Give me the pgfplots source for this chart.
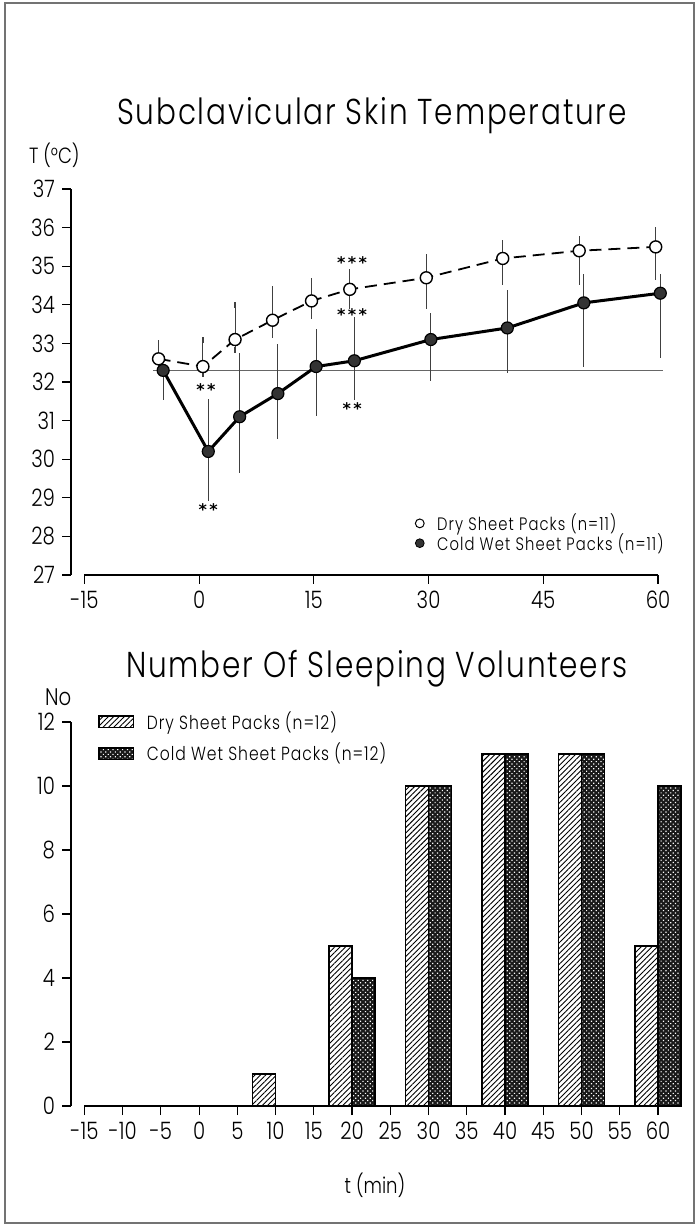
\documentclass[border=0pt]{standalone}
\usepackage{pgfplots}
\pgfplotsset{compat=1.18}
\usetikzlibrary{patterns,patterns.meta}
\usepackage{fontspec}
\setmainfont{Poppins Light}[FakeStretch=0.82]
\newfontfamily\djv{DejaVu Sans}

\pgfdeclareplotmark{capr}{%
  \pgfpathmoveto{\pgfpointorigin}%
  \pgfpathlineto{\pgfpoint{\pgfplotmarksize}{0pt}}%
  \pgfusepathqstroke}
\newcommand{\signif}[1]{{\djv\bfseries\fontsize{8}{8}\selectfont #1}}

\begin{document}
\begin{tikzpicture}
\useasboundingbox (0,0) rectangle (348.5pt,614pt);
\draw[black!55, line width=0.6pt] (2.5pt,2.5pt) rectangle (347pt,612.5pt);

\node[font=\fontsize{18}{20}\selectfont\addfontfeatures{LetterSpace=5}] at (186pt,556pt) {Subclavicular Skin Temperature};
\node[anchor=west, font=\fontsize{11}{12}\selectfont] at (11pt,536.5pt) {T (°C)};
\node[font=\fontsize{18}{20}\selectfont\addfontfeatures{LetterSpace=5}] at (188.5pt,279.5pt) {Number Of Sleeping Volunteers};
\node[anchor=west, font=\fontsize{12}{12}\selectfont] at (19pt,265.5pt) {No};
\node[font=\fontsize{11}{12}\selectfont] at (187.5pt,21.5pt) {t (min)};

% ---------------- top: temperature ----------------
\begin{axis}[
  at={(35.5pt,326.5pt)}, anchor=south west, scale only axis,
  width=293.5pt, height=193pt,
  xmin=-16.75, xmax=60, ymin=27, ymax=37,
  axis lines=left, axis line style={draw=none},
  clip=false,
  tick align=outside, major tick length=4.5pt,
  tick style={black, line width=0.6pt},
  xtick={-15,0,15,30,45,60}, xticklabels={-15,0,15,30,45,60},
  ytick={27,28,29,30,31,32,33,34,35,36,37},
  yticklabels={27,28,29,30,31,32,33,34,35,36,37},
  ticklabel style={font=\fontsize{12}{12}\selectfont},
  legend style={at={(0.586,0.163)}, anchor=north west, draw=none, fill=none,
    font=\fontsize{9}{10}\selectfont\addfontfeatures{LetterSpace=6},
    row sep=-1pt, column sep=6pt, inner sep=0pt, nodes={inner sep=0.5pt}},
  legend cell align=left,
]
\addplot[black!60, line width=0.5pt, forget plot] coordinates {(-6,32.3) (60.6,32.3)};

\addplot[black, line width=0.9pt, dash pattern=on 6pt off 3.5pt,
  mark=*, mark size=3pt, mark options={solid, fill=white, draw=black, line width=0.7pt},
  forget plot,
  error bars/.cd, y dir=both, y explicit, error mark=capr,
  error bar style={solid, line width=0.5pt, black!75},
  error mark options={solid, mark size=3pt, line width=0.6pt, black!75}]
coordinates {
(-5.3,32.6) += (0,0.4) -= (0,0.25)
(0.5,32.4) += (0,0.7) -= (0,0.2)
(4.7,33.1) += (0,0.9) -= (0,0.27)
(9.6,33.6) += (0,0.8) -= (0,0.38)
(14.7,34.1) += (0,0.52) -= (0,0.4)
(19.7,34.4) += (0,0.46) -= (0,0.43)
(29.7,34.7) += (0,0.55) -= (0,0.72)
(39.7,35.2) += (0,0.4) -= (0,0.62)
(49.7,35.4) += (0,0.3) -= (0,0.8)
(59.7,35.5) += (0,0.43) -= (0,0.78)
};

\addplot[black, line width=1.5pt,
  mark=*, mark size=3pt, mark options={fill=black!80, draw=black, line width=0.6pt},
  forget plot,
  error bars/.cd, y dir=both, y explicit, error mark=capr,
  error bar style={line width=0.5pt, black!75},
  error mark options={mark size=3pt, line width=0.6pt, black!75}]
coordinates {
(-4.7,32.3) += (0,0.1) -= (0,0.68)
(1.2,30.2) += (0,1.27) -= (0,1.2)
(5.3,31.1) += (0,1.57) -= (0,1.37)
(10.3,31.7) += (0,1.2) -= (0,1.1)
(15.3,32.4) += (0,0.9) -= (0,1.2)
(20.3,32.55) += (0,1.05) -= (0,0.95)
(30.3,33.1) += (0,0.6) -= (0,1.0)
(40.3,33.4) += (0,0.9) -= (0,1.1)
(50.3,34.05) += (0,0.67) -= (0,1.58)
(60.3,34.3) += (0,0.42) -= (0,1.6)
};

\addlegendimage{only marks, mark=o, mark size=2.2pt, black, line width=0.5pt}
\addlegendentry{Dry Sheet Packs (n=11)}
\addlegendimage{only marks, mark=*, mark size=2.2pt, fill=black!80, draw=black}
\addlegendentry{Cold Wet Sheet Packs (n=11)}

\draw[black, line width=0.6pt] (axis cs:-15,27) -- (axis cs:60,27);
\draw[black, line width=0.6pt] (axis cs:-16.75,27) -- (axis cs:-16.75,37);

\node at (axis cs:0.9,31.8) {\signif{*\hspace{1.2pt}*}};
\node at (axis cs:1.2,28.7) {\signif{*\hspace{1.2pt}*}};
\node at (axis cs:20,35.1) {\signif{*\hspace{1.2pt}*\hspace{1.2pt}*}};
\node at (axis cs:20,33.75) {\signif{*\hspace{1.2pt}*\hspace{1.2pt}*}};
\node at (axis cs:20,31.3) {\signif{*\hspace{1.2pt}*}};
\end{axis}

% ---------------- bottom: bars ----------------
\begin{axis}[
  at={(35.5pt,61pt)}, anchor=south west, scale only axis,
  width=293.5pt, height=192pt,
  xmin=-16.75, xmax=60, ymin=0, ymax=12,
  axis lines=left, axis line style={draw=none},
  clip=false,
  tick align=outside, major tick length=4.5pt,
  tick style={black, line width=0.6pt},
  xtick={-15,-10,-5,0,5,10,15,20,25,30,35,40,45,50,55,60},
  xticklabels={-15,-10,-5,0,5,10,15,20,25,30,35,40,45,50,55,60},
  ytick={0,2,4,6,8,10,12}, yticklabels={0,2,4,6,8,10,12},
  ticklabel style={font=\fontsize{12}{12}\selectfont},
  legend style={at={(0.046,1.031)}, anchor=north west, draw=none, fill=none,
    font=\fontsize{9.5}{10}\selectfont\addfontfeatures{LetterSpace=5},
    row sep=4.5pt, column sep=6pt, inner sep=0pt, nodes={inner sep=0.5pt}},
  legend cell align=left,
]
\addplot[ybar, bar width=3, bar shift=0pt, draw=black, line width=0.7pt,
  pattern={Lines[angle=45,distance=1.9pt,line width=0.45pt]}, forget plot]
coordinates {(8.5,1) (18.5,5) (28.5,10) (38.5,11) (48.5,11) (58.5,5)};
\addplot[ybar, bar width=3, bar shift=0pt, draw=black, line width=0.7pt,
  fill=black!90, postaction={pattern={Dots[radius=0.42pt,distance=1.7pt,angle=45]}, pattern color=white},
  forget plot]
coordinates {(21.5,4) (31.5,10) (41.5,11) (51.5,11) (61.5,10)};

\addlegendimage{area legend, draw=black, line width=0.7pt,
  pattern={Lines[angle=45,distance=1.9pt,line width=0.45pt]}}
\addlegendentry{Dry Sheet Packs (n=12)}
\addlegendimage{area legend, draw=black, line width=0.7pt, fill=black!90,
  postaction={pattern={Dots[radius=0.42pt,distance=1.7pt,angle=45]}, pattern color=white}}
\addlegendentry{Cold Wet Sheet Packs (n=12)}

\draw[black, line width=0.6pt] (axis cs:-15,0) -- (axis cs:60,0);
\draw[black, line width=0.6pt] (axis cs:-16.75,0) -- (axis cs:-16.75,12);
\end{axis}
\end{tikzpicture}
\end{document}
